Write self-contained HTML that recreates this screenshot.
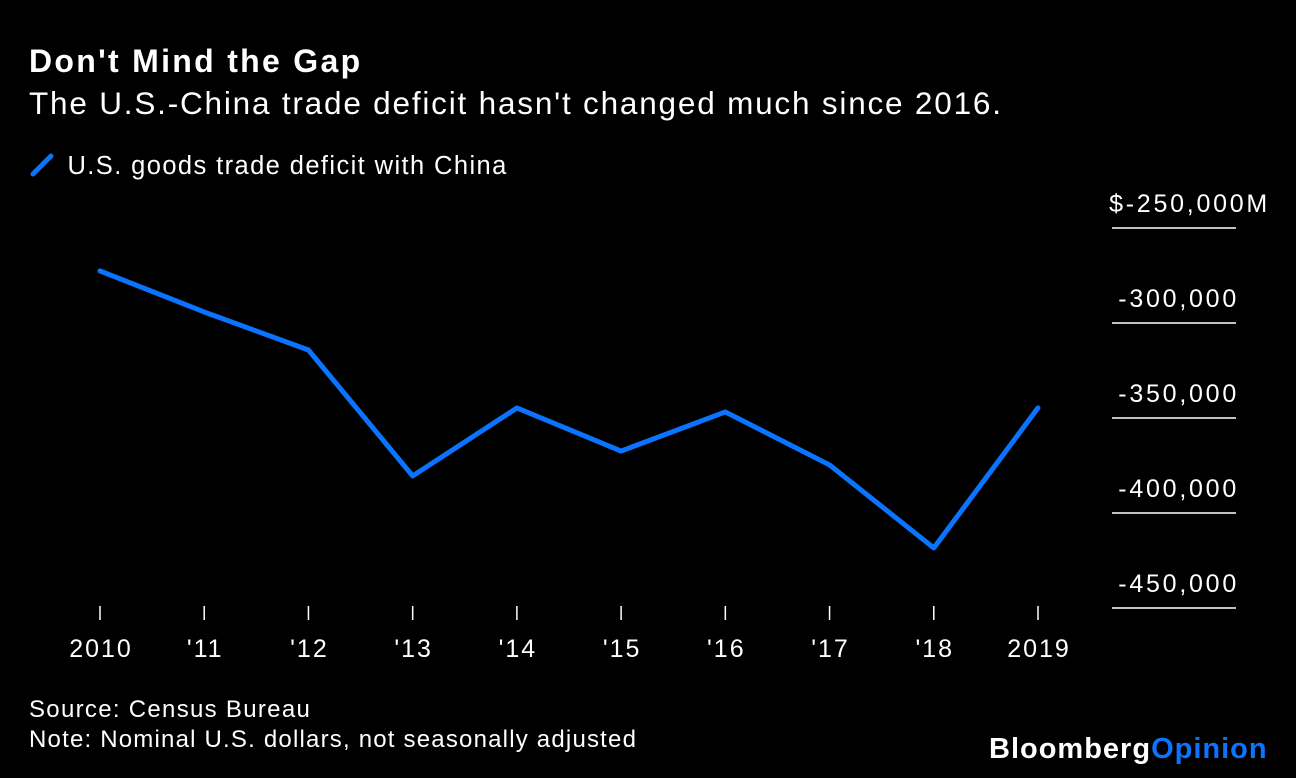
<!DOCTYPE html>
<html><head><meta charset="utf-8">
<style>
body{margin:0;background:#000;width:1296px;height:778px;overflow:hidden;font-family:"Liberation Sans",sans-serif;color:#fff}
.t{position:absolute;white-space:nowrap}
</style></head>
<body>
<div class="t" style="left:29px;top:43px;font-size:32px;font-weight:bold;letter-spacing:2.3px">Don't Mind the Gap</div>
<div class="t" style="left:29px;top:85px;font-size:31.5px;letter-spacing:1.8px">The U.S.-China trade deficit hasn't changed much since 2016.</div>
<div class="t" style="left:29px;top:150px;font-size:25.5px;letter-spacing:1.4px">
<svg width="30" height="30" style="vertical-align:-6px"><line x1="4" y1="24" x2="22" y2="6" stroke="#0a73ff" stroke-width="5" stroke-linecap="round"/></svg> U.S. goods trade deficit with China</div>
<svg id="c" width="1296" height="778" style="position:absolute;left:0;top:0"></svg>
<div class="t" style="left:29px;top:696px;font-size:24px;letter-spacing:1.3px">Source: Census Bureau</div>
<div class="t" style="left:29px;top:726px;font-size:24px;letter-spacing:1.2px">Note: Nominal U.S. dollars, not seasonally adjusted</div>
<div class="t" style="left:989px;top:733px;font-size:29px;font-weight:bold;letter-spacing:1px">Bloomberg<span style="color:#0a73ff">Opinion</span></div>
<script>
const categories=["2010","'11","'12","'13","'14","'15","'16","'17","'18","2019"];
const values=[-272600,-294200,-314200,-380500,-344700,-367400,-346800,-374700,-418400,-344700];
const yTicks=[-250000,-300000,-350000,-400000,-450000];
const yLabels=["$-250,000M","-300,000","-350,000","-400,000","-450,000"];
const svg=document.getElementById('c');const NS='http://www.w3.org/2000/svg';
const x=i=>100+i*(1038-100)/(categories.length-1);
const y=v=>228+(-250000-v)/50000*95;
function mk(t,a){const e=document.createElementNS(NS,t);for(const k in a)e.setAttribute(k,a[k]);svg.appendChild(e);return e;}
yTicks.forEach((v,i)=>{
const l=mk('line',{x1:1112,x2:1236,y1:y(v),y2:y(v),stroke:'#fff','stroke-width':1.5});


const t=mk('text',{x:(i===0?1270:1239),y:y(v)-16,'text-anchor':'end',fill:'#fff','font-size':25,'letter-spacing':'2.75px','font-family':'Liberation Sans'});
t.textContent=yLabels[i];


});
categories.forEach((c,i)=>{
const l=mk('line',{x1:x(i),x2:x(i),y1:606,y2:620,stroke:'#fff','stroke-width':1.5});


const t=mk('text',{x:x(i)+1,y:657,'text-anchor':'middle',fill:'#fff','font-size':25,'letter-spacing':'2px','font-family':'Liberation Sans'});
t.textContent=c;


});
const p=mk('polyline',{points:values.map((v,i)=>x(i)+','+y(v)).join(' '),fill:'none',stroke:'#0a73ff','stroke-width':5,'stroke-linejoin':'round','stroke-linecap':'round'});


</script>
</body></html>
